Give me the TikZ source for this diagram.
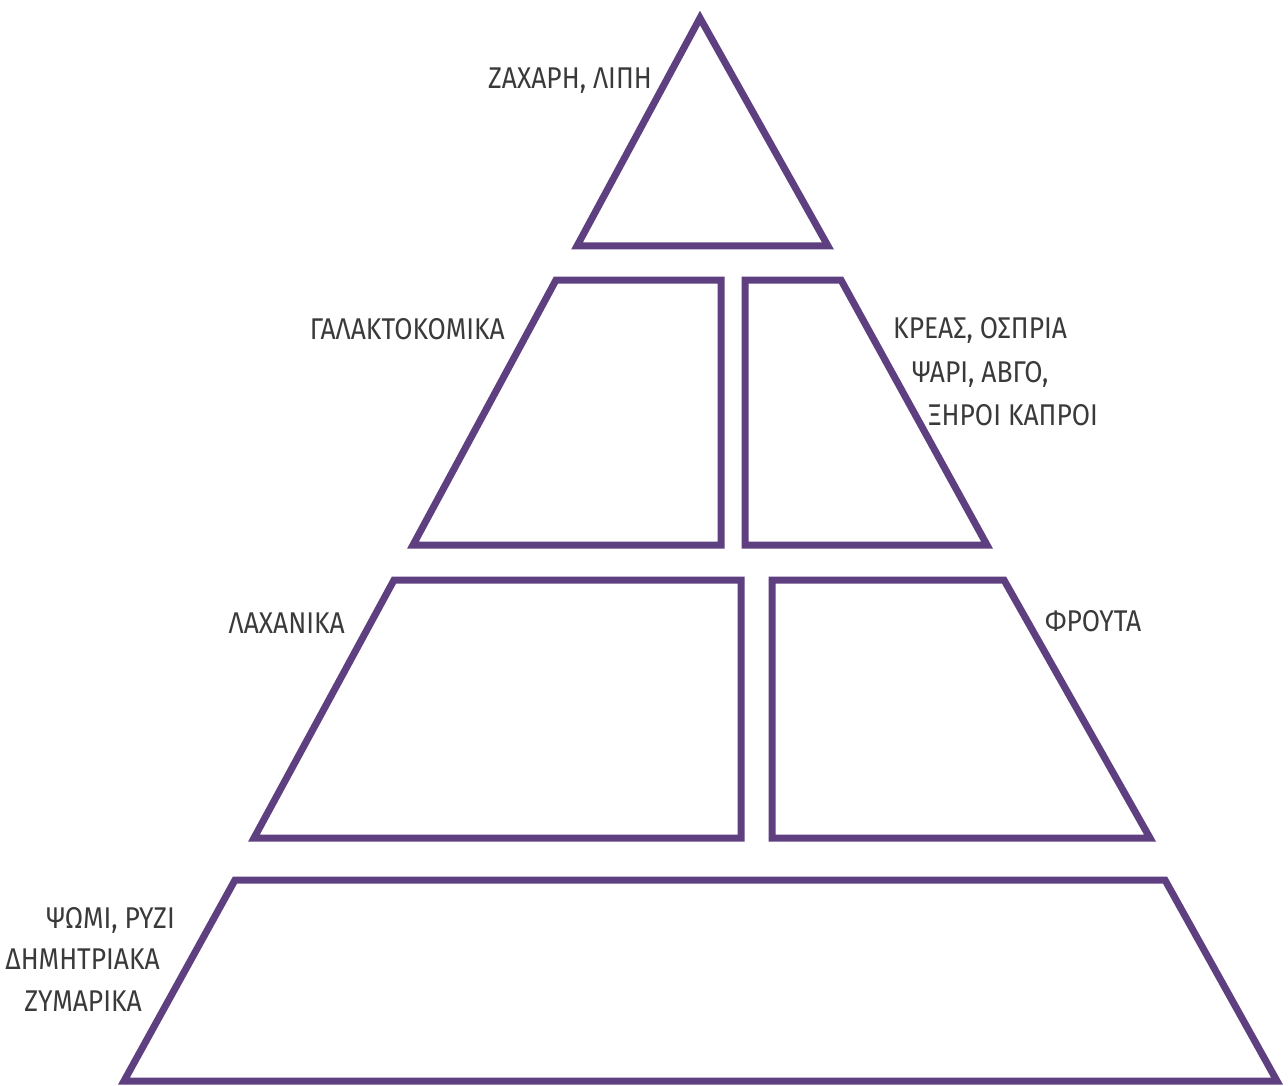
\documentclass[tikz,border=0pt]{standalone}
\usepackage{fontspec}
\newfontfamily\lblfont[FakeStretch=0.88]{Fira Sans}
\definecolor{pyr}{RGB}{94,63,128}
\definecolor{lbl}{RGB}{58,58,58}
\begin{document}
\begin{tikzpicture}[x=1pt,y=-1pt,
  tier/.style={draw=pyr,line width=7pt,line join=miter},
  lab/.style={inner sep=0pt,text=lbl,font=\lblfont\fontsize{30}{33}\selectfont}]
\fill[white] (0,0) rectangle (1288,1086);
\useasboundingbox (0,0) rectangle (1288,1086);
% tiers
\draw[tier] (700,18) -- (828,246) -- (577,246) -- cycle;
\draw[tier] (556,280) -- (721,280) -- (721,545) -- (413,545) -- cycle;
\draw[tier] (745,280) -- (841,280) -- (987,545) -- (745,545) -- cycle;
\draw[tier] (394,580) -- (741,580) -- (741,838) -- (254,838) -- cycle;
\draw[tier] (772,580) -- (1004,580) -- (1150,838) -- (772,838) -- cycle;
\draw[tier] (235,880) -- (1165,880) -- (1277,1081) -- (124,1081) -- cycle;
% labels
\node[lab,anchor=base east] (sugar) at (652,89) {ΖΑΧΑΡΗ, ΛΙΠΗ};
\node[lab,anchor=base east] (dairy) at (505,339) {ΓΑΛΑΚΤΟΚΟΜΙΚΑ};
\node[lab,anchor=base west] (meat1) at (893,338) {ΚΡΕΑΣ, ΟΣΠΡΙΑ};
\node[lab,anchor=base west] (meat2) at (912,382) {ΨΑΡΙ, ΑΒΓΟ,};
\node[lab,anchor=base west] (meat3) at (928,425) {ΞΗΡΟΙ ΚΑΠΡΟΙ};
\node[lab,anchor=base east] (veg) at (345,633) {ΛΑΧΑΝΙΚΑ};
\node[lab,anchor=base west] (fruit) at (1045,631) {ΦΡΟΥΤΑ};
\node[lab,anchor=base east] (grain1) at (175,928) {ΨΩΜΙ, ΡΥΖΙ};
\node[lab,anchor=base east] (grain2) at (160,969) {ΔΗΜΗΤΡΙΑΚΑ};
\node[lab,anchor=base east] (grain3) at (142,1011) {ΖΥΜΑΡΙΚΑ};
\end{tikzpicture}
\end{document}
